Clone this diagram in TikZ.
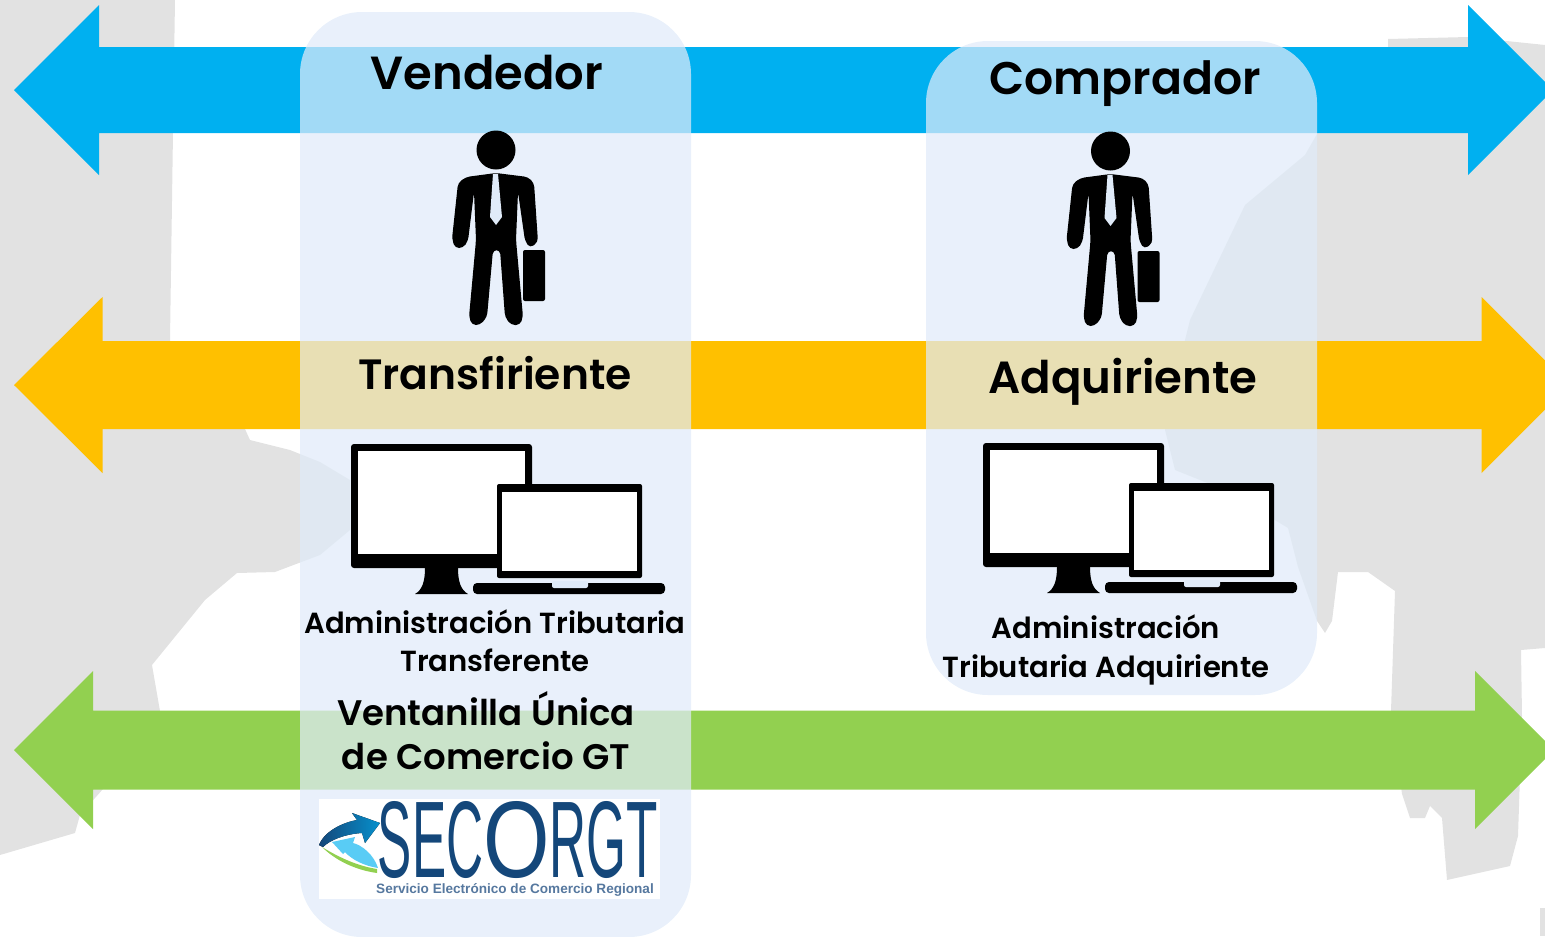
\documentclass[tikz,border=0pt]{standalone}
\usepackage{fontspec}
\setmainfont{Poppins}[BoldFont={Poppins SemiBold}]
\newfontfamily\logofont{Liberation Sans}
\usepackage{graphicx}
\usetikzlibrary{positioning, calc}

\definecolor{barblue}{HTML}{00B0F0}
\definecolor{barorange}{HTML}{FFC000}
\definecolor{bargreen}{HTML}{92D050}
\definecolor{panelblue}{RGB}{224,235,249}
\definecolor{shadegray}{HTML}{E2E2E2}
\definecolor{logoblue}{HTML}{14477A}
\definecolor{logotext}{HTML}{56789F}

\begin{document}
\begin{tikzpicture}[x=0.01cm, y=-0.01cm]
    % --- Style Definitions ---
    \tikzset{
        panel style/.style={
            fill=panelblue,
            fill opacity=0.725,
            rounded corners=0.62cm
        },
        gray patch/.style={fill=shadegray},
        head text/.style={font=\bfseries\fontsize{13.2}{15}\selectfont, text=black, inner sep=0pt, anchor=base},
        sub text/.style={font=\bfseries\fontsize{8.27}{10.9}\selectfont, align=center, text=black, inner sep=0pt},
        window text/.style={font=\bfseries\fontsize{10.1}{12.5}\selectfont, align=center, text=black, inner sep=0pt},
        person/.pic={
            \fill (66,30) circle (19.5);
            \fill[rounded corners=0.04cm] (66,53) -- (36,57) -- (28,63) -- (22,119)
                -- (25,128) -- (33,128) -- (38,121) -- (44,72) -- (46,120) -- (39,197)
                -- (42,205) -- (50,205) -- (57,197) -- (63,130) -- (70,130) -- (75,197) -- (81,205)
                -- (90,205) -- (93,197) -- (86,120) -- (88,72) -- (95,121) -- (100,128)
                -- (108,122) -- (104,63) -- (98,57) -- cycle;
            \fill[rounded corners=0.02cm] (93,130) rectangle (115,181);
            \fill[panelblue] (63,54) -- (68,54) -- (72,97) -- (66,105) -- (60,97) -- cycle;
        },
        devices/.pic={
            \fill[rounded corners=0.03cm] (0,0) rectangle (181,124);
            \fill[white] (7,7) rectangle (174,110);
            \fill (74,124) -- (107,124) .. controls (107,138) and (110,146) .. (117,150)
                -- (64,150) .. controls (71,146) and (74,138) .. (74,124) -- cycle;
            \fill[rounded corners=0.02cm] (146,40) rectangle (291,134);
            \fill[white] (151,48) rectangle (286,127);
            \fill[rounded corners=0.04cm] (122,139) rectangle (314,150);
            \fill[panelblue, rounded corners=0.02cm] (201,137) rectangle (237,144);
        }
    }

    \clip (0,0) rectangle (1545,936);

    % ==========================================
    % BACKGROUND PATCHES
    % ==========================================
    \fill[gray patch] (0,0) -- (175,0) -- (173,132) -- (170,340) -- (170,429) -- (245,429)
        -- (250,440) -- (290,450) -- (320,462) -- (350,480) -- (350,530) -- (320,555)
        -- (275,572) -- (237,573) -- (205,600) -- (152,665) -- (160,711) -- (103,789)
        -- (80,815) -- (75,833) -- (0,855) -- cycle;
    \fill[gray patch] (1388,39) -- (1468,37) -- (1545,45) -- (1545,648) -- (1521,650)
        -- (1522,716) -- (1518,836) -- (1510,866) -- (1447,880) -- (1442,818) -- (1430,806)
        -- (1425,818) -- (1410,818) -- (1402,794) -- (1391,711) -- (1395,591) -- (1368,572)
        -- (1338,572) -- (1332,621) -- (1325,633) -- (1317,621) -- (1298,567) -- (1288,528)
        -- (1225,490) -- (1175,470) -- (1165,430) -- (1185,340) -- (1190,320) -- (1245,205)
        -- (1305,155) -- (1317,134) -- (1317,60) -- (1388,47) -- cycle;
    \fill[gray patch] (1540,908) rectangle (1545,936);

    % ==========================================
    % DOUBLE ARROWS
    % ==========================================
    \foreach \barcol/\ymid/\halfbar/\halfhead/\lbase/\rbase in {
        barblue/90/43/85/99/1468,
        barorange/385/44/88/102.5/1481.5,
        bargreen/750/39.5/79/93/1475%
    }{
        \fill[\barcol] (14,\ymid) -- (\lbase,\ymid-\halfhead) -- (\lbase,\ymid-\halfbar)
            -- (\rbase,\ymid-\halfbar) -- (\rbase,\ymid-\halfhead)
            -- (\rbase+\halfhead,\ymid) -- (\rbase,\ymid+\halfhead)
            -- (\rbase,\ymid+\halfbar) -- (\lbase,\ymid+\halfbar)
            -- (\lbase,\ymid+\halfhead) -- cycle;
    }

    % ==========================================
    % PANELS
    % ==========================================
    \fill[panel style] (300,12) rectangle (691,937);
    \fill[panel style] (926,41) rectangle (1317,695);

    % ==========================================
    % LEFT COLUMN: seller
    % ==========================================
    \node[head text] (vendedor) at (487,89) {Vendedor};
    \pic at (430,120) {person};
    \node[head text, font=\bfseries\fontsize{12.05}{15}\selectfont] (transfiriente) at (495,389) {Transfiriente};
    \pic at (351,444) {devices};
    \node[sub text] (admin_left) at (495,641) {Administración Tributaria\\Transferente};
    \node[window text] (ventanilla) at (486,731) {Ventanilla Única\\de Comercio GT};

    % 1. Logo
    \fill[white] (319,799) rectangle (660,899);
    \fill[left color=logoblue, right color=barblue!70!logoblue] (319,845)
        .. controls (325,830) and (345,822) .. (357,820) -- (352,813) -- (380,823)
        -- (365,843) -- (362,833) .. controls (345,834) and (330,840) .. (323,847) -- cycle;
    \fill[bargreen] (322,847) .. controls (335,860) and (355,870) .. (377,873)
        -- (377,869) .. controls (358,866) and (340,858) .. (322,847) -- cycle;
    \fill[barblue!65!white] (332,842) -- (355,837) -- (353,843)
        .. controls (362,845) and (374,855) .. (378,868)
        .. controls (365,866) and (352,860) .. (345,852) -- (343,854) -- cycle;
    \node[inner sep=0pt, text=logoblue, font=\logofont] (logo) at (518,840)
        {\resizebox{2.8cm}{0.76cm}{\scalebox{0.72}[1]{SEC}\scalebox{1.2}[1]{O}\scalebox{0.72}[1]{RGT}}};
    \node[inner sep=0pt, text=logotext, font=\logofont\bfseries\fontsize{3.86}{4}\selectfont] (logo_sub) at (515,890)
        {Servicio Electrónico de Comercio Regional};

    % ==========================================
    % RIGHT COLUMN: buyer
    % ==========================================
    \node[head text, font=\bfseries\fontsize{13}{15}\selectfont] (comprador) at (1125,94) {Comprador};
    \pic at (1044.5,121) {person};
    \node[head text, font=\bfseries\fontsize{12.8}{15}\selectfont] (adquiriente) at (1123,393) {Adquiriente};
    \pic at (983,443) {devices};
    \node[sub text] (admin_right) at (1106,650) {Administración\\Tributaria Adquiriente};

\end{tikzpicture}
\end{document}
